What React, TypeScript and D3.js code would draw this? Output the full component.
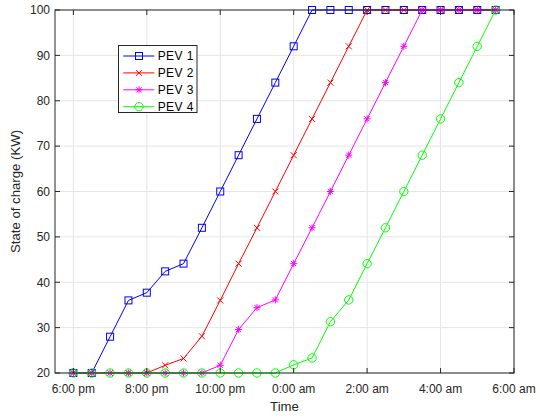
import * as d3 from "d3";

// half-hour steps, hours after 6:00 pm
const times = d3.range(0, 12, 0.5);

const pev1 = [20, 20, 28, 36, 37.7, 42.4, 44.1, 52, 60, 68, 76, 84, 92, 100, 100, 100, 100, 100, 100, 100, 100, 100, 100, 100];
const pev2 = [20, 20, 20, 20, 20, 21.7, 23.2, 28.1, 36, 44.1, 52, 60, 68, 76, 84, 92, 100, 100, 100, 100, 100, 100, 100, 100];
const pev3 = [20, 20, 20, 20, 20, 20, 20, 20, 21.7, 29.6, 34.4, 36.1, 44.1, 52, 60, 68, 76, 84, 92, 100, 100, 100, 100, 100];
const pev4 = [20, 20, 20, 20, 20, 20, 20, 20, 20, 20, 20, 20, 21.8, 23.3, 31.3, 36.1, 44.1, 52, 60, 68, 76, 84, 92, 100];

const seriesNames = ["PEV 1", "PEV 2", "PEV 3", "PEV 4"];
const seriesColors = ["#0000ff", "#ff0000", "#ff00ff", "#00ff00"];
const seriesMarkers = ["square", "x", "star", "circle"];
const seriesValues = [pev1, pev2, pev3, pev4];

const xTicks = [0, 2, 4, 6, 8, 10, 12];
const xTickLabels = ["6:00 pm", "8:00 pm", "10:00 pm", "0:00 am", "2:00 am", "4:00 am", "6:00 am"];
const yTicks = [20, 30, 40, 50, 60, 70, 80, 90, 100];

const W = 540, H = 418;
const left = 55, right = 514, top = 10, bottom = 373;
const axisColor = "#262626";
const font = "'Liberation Sans', Arial, Helvetica, sans-serif";

function Marker({ kind, x, y, color }: { kind: string; x: number; y: number; color: string }) {
  if (kind === "square") {
    return <rect x={x - 3.5} y={y - 3.5} width={7} height={7} fill="none" stroke={color} strokeWidth={1} />;
  }
  if (kind === "circle") {
    return <circle cx={x} cy={y} r={4.2} fill="none" stroke={color} strokeWidth={1} />;
  }
  if (kind === "x") {
    const s = 3;
    return (
      <path d={`M${x - s},${y - s}L${x + s},${y + s}M${x - s},${y + s}L${x + s},${y - s}`} stroke={color} strokeWidth={1} />
    );
  }
  // star: plus + x
  const s = 3.5, d = 2.6;
  return (
    <path
      d={`M${x - s},${y}L${x + s},${y}M${x},${y - s}L${x},${y + s}M${x - d},${y - d}L${x + d},${y + d}M${x - d},${y + d}L${x + d},${y - d}`}
      stroke={color}
      strokeWidth={1}
    />
  );
}

export default function App() {
  const x = d3.scaleLinear().domain([-0.5, 12]).range([left, right]);
  const y = d3.scaleLinear().domain([20, 100]).range([bottom, top]);
  const line = d3.line<number>().x((_, i) => x(times[i])).y((d) => y(d));

  const legendX = 118.5, legendY = 45.5, legendW = 78.5, legendH = 67;

  return (
    <svg width={W} height={H} style={{ position: "absolute", left: 0, top: 0, background: "#fff" }} fontFamily={font}>
      <rect x={0} y={0} width={W} height={H} fill="#fff" />
      {/* grid */}
      {xTicks.map((t) => (
        <line key={"gx" + t} x1={x(t)} x2={x(t)} y1={top} y2={bottom} stroke="#e5e5e5" strokeWidth={1} />
      ))}
      {yTicks.map((t) => (
        <line key={"gy" + t} x1={left} x2={right} y1={y(t)} y2={y(t)} stroke="#e5e5e5" strokeWidth={1} />
      ))}
      {/* series */}
      {seriesValues.map((vals, si) => (
        <g key={si}>
          <path d={line(vals) || ""} fill="none" stroke={seriesColors[si]} strokeWidth={1} />
          {vals.map((v, i) => (
            <Marker key={i} kind={seriesMarkers[si]} x={x(times[i])} y={y(v)} color={seriesColors[si]} />
          ))}
        </g>
      ))}
      {/* axes box */}
      <rect x={left} y={top} width={right - left} height={bottom - top} fill="none" stroke={axisColor} strokeWidth={1} />
      {xTicks.map((t) => (
        <g key={"tx" + t}>
          <line x1={x(t)} x2={x(t)} y1={bottom} y2={bottom - 5} stroke={axisColor} />
          <line x1={x(t)} x2={x(t)} y1={top} y2={top + 5} stroke={axisColor} />
        </g>
      ))}
      {yTicks.map((t) => (
        <g key={"ty" + t}>
          <line x1={left} x2={left + 5} y1={y(t)} y2={y(t)} stroke={axisColor} />
          <line x1={right} x2={right - 5} y1={y(t)} y2={y(t)} stroke={axisColor} />
          <text x={left - 5} y={y(t) + 4.3} textAnchor="end" fontSize={12} fill={axisColor}>
            {t}
          </text>
        </g>
      ))}
      {xTicks.map((t, i) => (
        <text key={"lx" + t} x={x(t)} y={bottom + 19.7} textAnchor="middle" fontSize={12} fill={axisColor}>
          {xTickLabels[i]}
        </text>
      ))}
      <text x={(left + right) / 2} y={411} textAnchor="middle" fontSize={13.2} fill={axisColor}>
        Time
      </text>
      <text transform={`translate(20,${(top + bottom) / 2}) rotate(-90)`} textAnchor="middle" fontSize={13.2} fill={axisColor}>
        State of charge (KW)
      </text>
      {/* legend */}
      <rect x={legendX} y={legendY} width={legendW} height={legendH} fill="#fff" stroke={axisColor} strokeWidth={1} />
      {seriesNames.map((name, i) => {
        const ly = 56 + i * 16.9;
        return (
          <g key={name}>
            <line x1={123.3} x2={154.3} y1={ly} y2={ly} stroke={seriesColors[i]} strokeWidth={1} />
            <Marker kind={seriesMarkers[i]} x={139} y={ly} color={seriesColors[i]} />
            <text x={157.7} y={ly + 4.3} fontSize={12} letterSpacing={0.4} fill="#000">
              {name}
            </text>
          </g>
        );
      })}
    </svg>
  );
}
